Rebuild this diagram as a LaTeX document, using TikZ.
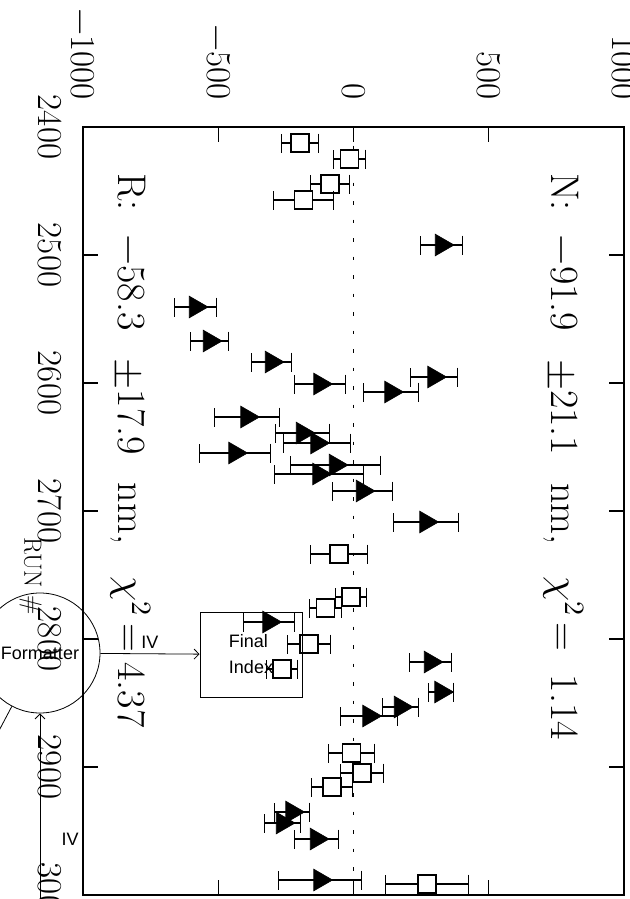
\documentclass[tikz,border=0pt]{standalone}
\usepackage{amsmath}
\usepackage{fontspec}
\usepackage{unicode-math}
\newfontfamily\flowfont{Liberation Sans}
\usetikzlibrary{arrows.meta, shapes.geometric}

\tikzset{
  frame/.style={line width=1.3pt},
  axtick/.style={line width=1.1pt},
  axnum/.style={rotate=-90, inner sep=0pt, font=\fontsize{35}{40}\selectfont},
  fitlbl/.style={rotate=-90, inner sep=0pt, anchor=base west, font=\fontsize{40}{46}\selectfont},
  errbar/.style={line width=1.1pt, {Bar[width=19pt]}-{Bar[width=19pt]}},
  sqmark/.style={draw, fill=white, line width=1.1pt, minimum size=18pt, inner sep=0pt},
  trimark/.style={regular polygon, regular polygon sides=3, shape border rotate=-90, fill=black, draw, line width=0.6pt, minimum size=25pt, inner sep=0pt},
  flow/.style={line width=0.8pt, -{Straight Barb[length=5pt,width=10pt]}},
  flowtxt/.style={font=\flowfont\fontsize{18}{26}\selectfont}
}

\begin{document}
\begin{tikzpicture}[x=1pt,y=-1pt]
\useasboundingbox (0,0) rectangle (629,899);
\clip (0,0) rectangle (629,899);

\draw[frame] (83,127) rectangle (624,895); %plot frame
\draw[dash pattern=on 3.5pt off 15pt, line width=1.1pt] (353.5,127) -- (353.5,895); %zero line

%ticks, value axis (top and bottom)
\draw[axtick] (218.3,127) -- ++(0,15);  \draw[axtick] (218.3,895) -- ++(0,-15);
\draw[axtick] (353.5,127) -- ++(0,15);  \draw[axtick] (353.5,895) -- ++(0,-15);
\draw[axtick] (488.8,127) -- ++(0,15);  \draw[axtick] (488.8,895) -- ++(0,-15);
%ticks, run axis (left and right)
\draw[axtick] (83,255) -- ++(15,0); \draw[axtick] (624,255) -- ++(-15,0);
\draw[axtick] (83,383) -- ++(15,0); \draw[axtick] (624,383) -- ++(-15,0);
\draw[axtick] (83,511) -- ++(15,0); \draw[axtick] (624,511) -- ++(-15,0);
\draw[axtick] (83,639) -- ++(15,0); \draw[axtick] (624,639) -- ++(-15,0);
\draw[axtick] (83,767) -- ++(15,0); \draw[axtick] (624,767) -- ++(-15,0);

%value labels
\node[axnum, anchor=east] (vm1000) at (83,100)    {$-$1000};
\node[axnum, anchor=east] (vm500)  at (218.3,100) {$-$500};
\node[axnum, anchor=east] (v0)     at (353.5,100) {0};
\node[axnum, anchor=east] (v500)   at (488.8,100) {500};
\node[axnum, anchor=east] (v1000)  at (624,100)   {1000};

%run labels
\node[axnum, anchor=north] (r2400) at (62,127) {2400};
\node[axnum, anchor=north] (r2500) at (62,255) {2500};
\node[axnum, anchor=north] (r2600) at (62,383) {2600};
\node[axnum, anchor=north] (r2700) at (62,511) {2700};
\node[axnum, anchor=north] (r2800) at (62,639) {2800};
\node[axnum, anchor=north] (r2900) at (62,767) {2900};
\node[axnum, anchor=north] (r3000) at (62,895) {3000};
\node[axnum, anchor=north, font=\fontsize{25}{28}\selectfont] (runlbl) at (42,576) {RUN \#};

%fit results
\node[fitlbl] (nfit) at (551,173) {N:\hspace{0.6em}$-$91.9\hspace{0.7em}$\pm$21.1\hspace{0.7em}nm,\hspace{0.8em}$\chi^2$\hspace{0.15em}=\hspace{0.6em}1.14};
\node[fitlbl] (rfit) at (118,173) {R:\hspace{0.6em}$-$58.3\hspace{0.7em}$\pm$17.9\hspace{0.7em}nm,\hspace{0.8em}$\chi^2$\hspace{0.2em}=\hspace{0.25em}4.37};

%open squares
\draw[errbar] (281,143) -- (319,143); \node[sqmark] (sq1)  at (300,143)   {}; %1
\draw[errbar] (333,159) -- (366,159); \node[sqmark] (sq2)  at (349.5,159) {}; %2
\draw[errbar] (310,184) -- (350,184); \node[sqmark] (sq3)  at (330,184)   {}; %3
\draw[errbar] (273,200) -- (334,200); \node[sqmark] (sq4)  at (303.5,200) {}; %4
\draw[errbar] (310,554) -- (368,554); \node[sqmark] (sq5)  at (339,554)   {}; %5
\draw[errbar] (335,597) -- (367,597); \node[sqmark] (sq6)  at (351,597)   {}; %6
\draw[errbar] (309,608) -- (342,608); \node[sqmark] (sq7)  at (325.5,608) {}; %7
\draw[errbar] (287,644) -- (331,644); \node[sqmark] (sq8)  at (309,644)   {}; %8
\draw[errbar] (266,669) -- (298,669); \node[sqmark] (sq9)  at (282,669)   {}; %9
\draw[errbar] (328,753) -- (375,753); \node[sqmark] (sq10) at (351.5,753) {}; %10
\draw[errbar] (340,773) -- (384,773); \node[sqmark] (sq11) at (362,773)   {}; %11
\draw[errbar] (311,787) -- (353,787); \node[sqmark] (sq12) at (332,787)   {}; %12
\draw[errbar] (385,884) -- (469,884); \node[sqmark] (sq13) at (427,884)   {}; %13

%filled triangles
\draw[errbar] (420,245) -- (463,245); \node[trimark] (tr1)  at (441.5,245) {}; %1
\draw[errbar] (174,307) -- (217,307); \node[trimark] (tr2)  at (195.5,307) {}; %2
\draw[errbar] (190,341) -- (229,341); \node[trimark] (tr3)  at (209.5,341) {}; %3
\draw[errbar] (251,362) -- (292,362); \node[trimark] (tr4)  at (271.5,362) {}; %4
\draw[errbar] (410,377) -- (458,377); \node[trimark] (tr5)  at (434,377)   {}; %5
\draw[errbar] (294,384) -- (346,384); \node[trimark] (tr6)  at (320,384)   {}; %6
\draw[errbar] (363,392) -- (419,392); \node[trimark] (tr7)  at (391,392)   {}; %7
\draw[errbar] (214,417) -- (280,417); \node[trimark] (tr8)  at (247,417)   {}; %8
\draw[errbar] (275,433) -- (330,433); \node[trimark] (tr9)  at (302.5,433) {}; %9
\draw[errbar] (283,443) -- (351,443); \node[trimark] (tr10) at (317,443)   {}; %10
\draw[errbar] (199,453) -- (271,453); \node[trimark] (tr11) at (235,453)   {}; %11
\draw[errbar] (290,465) -- (381,465); \node[trimark] (tr12) at (335.5,465) {}; %12
\draw[errbar] (274,474) -- (364,474); \node[trimark] (tr13) at (319,474)   {}; %13
\draw[errbar] (332,491) -- (393,491); \node[trimark] (tr14) at (362.5,491) {}; %14
\draw[errbar] (393,522) -- (459,522); \node[trimark] (tr15) at (426,522)   {}; %15
\draw[errbar] (243,622) -- (295,622); \node[trimark] (tr16) at (269,622)   {}; %16
\draw[errbar] (409,662) -- (452,662); \node[trimark] (tr17) at (430.5,662) {}; %17
\draw[errbar] (428,692) -- (454,692); \node[trimark] (tr18) at (441,692)   {}; %18
\draw[errbar] (382,707) -- (419,707); \node[trimark] (tr19) at (400.5,707) {}; %19
\draw[errbar] (340,716) -- (398,716); \node[trimark] (tr20) at (369,716)   {}; %20
\draw[errbar] (274,812) -- (310,812); \node[trimark] (tr21) at (292,812)   {}; %21
\draw[errbar] (264,823) -- (301,823); \node[trimark] (tr22) at (282.5,823) {}; %22
\draw[errbar] (294,839) -- (339,839); \node[trimark] (tr23) at (316.5,839) {}; %23
\draw[errbar] (278,880) -- (362,880); \node[trimark] (tr24) at (320,880)   {}; %24

%flow overlay
\node[circle, draw, line width=0.8pt, minimum size=120pt, inner sep=0pt, flowtxt] (fmt) at (40,653) {Formatter};
\node[draw, line width=0.8pt, minimum width=102pt, minimum height=85pt, align=left, flowtxt] (final) at (251,654.5) {Final\\Index};
\coordinate (feed) at (40,930);
\coordinate (outlet) at (-26,778);
\draw[flow] (fmt) -- node[above=2pt, flowtxt] (iva) {IV} (final);
\draw[flow] (feed) -- node[pos=0.42, right=18pt, flowtxt] (ivb) {IV} (fmt);
\draw[line width=0.8pt] (fmt) -- (outlet);
\end{tikzpicture}
\end{document}
